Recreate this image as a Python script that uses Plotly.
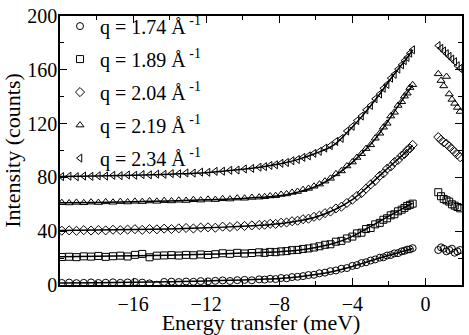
import plotly.graph_objects as go

# energy transfer values (meV), loss side and gain side
energy_neg = [-19.9, -19.5, -19.1, -18.7, -18.3, -17.9, -17.5, -17.1, -16.7, -16.3,
              -15.9, -15.5, -15.1, -14.7, -14.3, -13.9, -13.5, -13.1, -12.7, -12.3,
              -11.9, -11.5, -11.1, -10.7, -10.3, -9.9, -9.5, -9.1, -8.8, -8.5,
              -8.2, -7.9, -7.6, -7.3, -7.0, -6.7, -6.4, -6.1, -5.8, -5.5,
              -5.2, -4.9, -4.6, -4.3, -4.0, -3.75, -3.5, -3.25, -3.0, -2.75,
              -2.5, -2.3, -2.1, -1.9, -1.7, -1.5, -1.3, -1.15, -1.0, -0.85, -0.7]
energy_pos = [0.7, 0.85, 1.0, 1.15, 1.3, 1.45, 1.6, 1.75, 1.9]

q_labels = ["q = 1.74 Å<sup> -1</sup>", "q = 1.89 Å<sup> -1</sup>", "q = 2.04 Å<sup> -1</sup>",
            "q = 2.19 Å<sup> -1</sup>", "q = 2.34 Å<sup> -1</sup>"]
symbols = ["circle-open", "square-open", "diamond-open", "triangle-up-open", "triangle-left-open"]

# measured intensities (counts), each q offset by 20
q174_neg = [1.5, 1.8, 1.4, 1.6, 1.9, 1.5, 1.7, 2.0, 1.6, 1.9,
            2.2, 1.8, 1.2, 0.2, 2.3, 2.5, 2.2, 2.6, 2.4, 2.9,
            2.7, 3.1, 3.4, 3.0, 3.6, 3.8, 3.5, 4.2, 4.0, 4.6,
            4.4, 5.2, 5.0, 5.9, 6.1, 6.6, 7.4, 7.6, 8.7, 9.2,
            10.3, 10.8, 12.1, 12.6, 14.2, 14.8, 16.3, 16.9, 18.2, 19.0,
            20.3, 20.6, 21.9, 22.3, 23.5, 23.7, 25.0, 25.4, 26.3, 26.5, 27.4]
q189_neg = [20.8, 21.0, 20.7, 21.3, 21.1, 21.6, 20.9, 21.4, 21.8, 21.2,
            22.4, 23.1, 20.6, 21.8, 22.0, 22.2, 21.9, 22.4, 22.1, 22.7,
            22.3, 22.9, 23.6, 23.2, 23.9, 23.4, 23.8, 24.3, 23.9, 24.6,
            24.4, 25.0, 25.2, 25.9, 26.1, 26.8, 27.2, 27.9, 28.8, 29.9,
            30.3, 32.2, 32.8, 34.6, 36.0, 38.4, 38.9, 41.6, 42.4, 45.1,
            46.2, 48.5, 49.6, 51.8, 52.6, 54.8, 56.0, 57.3, 58.8, 59.6, 60.5]
q204_neg = [40.4, 40.6, 40.3, 40.8, 40.5, 40.9, 40.6, 41.1, 40.8, 41.2,
            41.5, 41.0, 41.6, 41.4, 41.9, 41.6, 42.1, 42.4, 42.0, 42.7,
            42.9, 42.6, 43.4, 43.1, 43.8, 43.9, 44.3, 44.6, 44.8, 45.5,
            45.4, 46.3, 46.5, 47.4, 47.8, 48.9, 49.3, 50.7, 51.6, 53.4,
            54.6, 56.9, 58.2, 61.0, 63.4, 66.2, 68.3, 71.6, 74.8, 77.5,
            81.2, 83.0, 86.4, 88.1, 91.3, 93.0, 96.2, 97.4, 100.3, 101.5, 104.2]
q219_neg = [61.2, 61.0, 61.4, 61.1, 61.6, 61.3, 61.8, 61.5, 62.0, 61.7,
            62.2, 62.0, 62.5, 62.2, 62.7, 62.5, 63.0, 62.8, 63.4, 63.1,
            63.7, 63.5, 64.1, 63.9, 64.6, 64.5, 65.1, 65.3, 65.6, 66.2,
            66.4, 67.3, 67.7, 68.8, 69.5, 70.9, 71.8, 73.4, 75.0, 77.2,
            79.3, 82.6, 84.8, 88.5, 91.4, 94.8, 97.6, 101.4, 104.2, 109.1,
            112.8, 117.3, 120.2, 125.6, 128.4, 133.5, 136.2, 140.4, 142.6, 146.8, 148.9]
q234_neg = [80.6, 80.9, 80.5, 81.0, 80.8, 81.2, 81.0, 81.5, 81.3, 81.8,
            81.6, 82.1, 81.9, 82.4, 82.3, 82.8, 82.7, 83.3, 83.2, 83.9,
            83.8, 84.5, 84.6, 85.3, 85.5, 86.3, 86.7, 87.6, 88.0, 88.9,
            89.4, 90.5, 91.1, 92.4, 93.3, 94.9, 96.0, 97.9, 99.4, 101.8,
            103.6, 106.7, 109.0, 114.5, 118.0, 122.3, 125.6, 130.2, 133.5, 138.4,
            142.0, 146.3, 149.1, 153.8, 156.6, 160.5, 163.7, 166.8, 169.2, 172.4, 174.9]

q174_pos = [26, 28, 27, 25, 26, 27, 24, 25, 26]
q189_pos = [69, 66, 64, 63, 62, 60, 59, 58, 57]
q204_pos = [110, 108, 106, 105, 103, 101, 99, 97, 95]
q219_pos = [157, 152, 148, 155, 142, 138, 135, 132, 129]
q234_pos = [178, 176, 174, 172, 170, 168, 166, 163, 161]

# fitted curves
fit_energy = [-20, -18, -16, -14, -12, -10, -9, -8, -7, -6, -5, -4, -3.5, -3, -2.5, -2, -1.5, -1, -0.7]
fit_q174 = [1.5, 1.7, 2.0, 2.4, 3.0, 3.8, 4.3, 4.9, 6.0, 7.8, 10.3, 13.8, 15.9, 18.0, 20.1, 22.1, 24.0, 25.9, 27.1]
fit_q189 = [21.0, 21.3, 21.7, 22.2, 22.8, 23.7, 24.2, 24.8, 25.9, 27.9, 31.0, 36.2, 39.8, 43.6, 47.4, 51.2, 55.0, 58.7, 60.8]
fit_q204 = [40.5, 40.8, 41.2, 41.7, 42.5, 43.6, 44.4, 45.6, 47.6, 50.6, 55.8, 63.5, 69.0, 75.0, 81.3, 87.5, 93.6, 99.7, 103.8]
fit_q219 = [61.1, 61.4, 61.9, 62.5, 63.3, 64.4, 65.2, 66.3, 69.0, 73.2, 80.8, 91.2, 97.8, 104.6, 113.0, 123.0, 133.0, 142.8, 148.7]
fit_q234 = [80.6, 81.0, 81.6, 82.4, 83.5, 86.0, 87.7, 89.9, 93.2, 97.9, 104.2, 117.5, 125.0, 133.3, 142.0, 151.5, 160.4, 169.0, 174.7]

neg_sets = [q174_neg, q189_neg, q204_neg, q219_neg, q234_neg]
pos_sets = [q174_pos, q189_pos, q204_pos, q219_pos, q234_pos]
fit_sets = [fit_q174, fit_q189, fit_q204, fit_q219, fit_q234]

font_name = "Liberation Serif, Times New Roman, serif"

fig = go.Figure()

for i in range(5):
    # fit line under the points
    fig.add_trace(go.Scatter(
        x=fit_energy, y=fit_sets[i], mode="lines", line=dict(color="black", width=1.5, shape="spline"),
        showlegend=False, hoverinfo="skip"))
    # both sides of the elastic line in one trace, split by a gap
    fig.add_trace(go.Scatter(
        x=energy_neg + [None] + energy_pos, y=neg_sets[i] + [None] + pos_sets[i],
        mode="markers", name=q_labels[i], legendgroup=q_labels[i],
        marker=dict(symbol=symbols[i], size=7, color="black", line=dict(width=1, color="black"))))

axis_style = dict(
    showline=True, linecolor="black", linewidth=1.5, mirror="ticks",
    ticks="inside", ticklen=7, tickwidth=1, tickcolor="black",
    showgrid=False, zeroline=False, ticklabeloverflow="allow",
    tickfont=dict(family=font_name, size=20, color="black"),
)

fig.update_xaxes(
    range=[-20, 2], tickvals=[-16, -12, -8, -4, 0],
    minor=dict(tickmode="linear", tick0=0, dtick=2, ticks="inside", ticklen=4, tickcolor="black"),
    title=dict(text="Energy transfer (meV)", font=dict(family=font_name, size=22, color="black"), standoff=0),
    **axis_style)
fig.update_yaxes(
    range=[0, 200], tickvals=[0, 40, 80, 120, 160, 200], ticklabelstandoff=-3,
    minor=dict(tickmode="linear", tick0=0, dtick=20, ticks="inside", ticklen=4, tickcolor="black"),
    title=dict(text="Intensity (counts)", font=dict(family=font_name, size=22, color="black"), standoff=4),
    **axis_style)

fig.update_layout(
    width=469, height=335,
    margin=dict(l=60, r=5, t=8, b=46),
    paper_bgcolor="white", plot_bgcolor="white",
    font=dict(family=font_name, color="black"),
    # legend sits a little above the plot top, so lift the height cap to avoid a scrollbar
    legend=dict(x=0, y=1.035, xanchor="left", yanchor="top", bgcolor="rgba(0,0,0,0)", maxheight=330,
                font=dict(family=font_name, size=20, color="black"), tracegroupgap=4),
)

# page body has a default 8px margin, drop it so the figure fills the window
fig.write_html("out.html", config={"displayModeBar": False},
               post_script="document.body.style.margin='0px';")
